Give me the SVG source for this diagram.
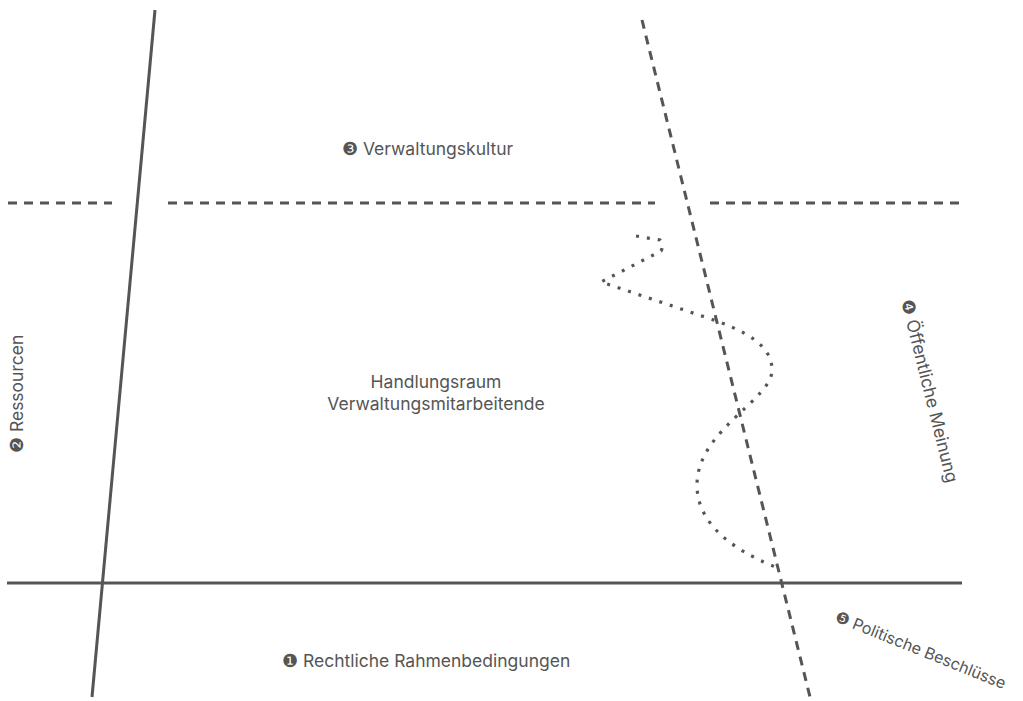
<svg xmlns="http://www.w3.org/2000/svg" width="1023" height="701" viewBox="0 0 1023 701">
<style>
.ln{stroke:#555;stroke-width:3;fill:none}
.dash{stroke-dasharray:9 7}
.dot{stroke-dasharray:3 8;stroke-width:3.2}
.t{font-family:Inter,"Liberation Sans",sans-serif;font-size:17.5px;fill:#555}
</style>
<rect width="1023" height="701" fill="#fff"/>
<g id="connectors">
<line class="ln" x1="155" y1="10" x2="92" y2="697"/>
<line class="ln" x1="7" y1="583" x2="962" y2="583"/>
<line class="ln dash" x1="8" y1="203" x2="112" y2="203"/>
<line class="ln dash" x1="168" y1="203" x2="655" y2="203"/>
<line class="ln dash" x1="710" y1="203" x2="962" y2="203"/>
<line class="ln dash" x1="642" y1="20" x2="810" y2="697"/>
<path class="ln dot" d="M636,236 L660,240 Q664,245 661,251 L601,282 L705,317 C745,330 772,345 772,370 C772,400 697,430 697,485 C697,530 745,555 778,568"/>
</g>
<g id="n3"><text class="t" x="342" y="155">❸ Verwaltungskultur</text></g>
<g id="center"><text class="t" x="436" y="388" text-anchor="middle">Handlungsraum</text><text class="t" x="436" y="410" text-anchor="middle">Verwaltungsmitarbeitende</text></g>
<g id="n1"><text class="t" x="282" y="667">❶ Rechtliche Rahmenbedingungen</text></g>
<g id="n2"><text class="t" transform="translate(23,453) rotate(-90)">❷ Ressourcen</text></g>
<g id="n4"><text class="t" transform="translate(901,301) rotate(76)">❹ Öffentliche Meinung</text></g>
<g id="n5"><text class="t" style="font-size:16px" transform="translate(834,621) rotate(22)">❺ Politische Beschlüsse</text></g>
</svg>
